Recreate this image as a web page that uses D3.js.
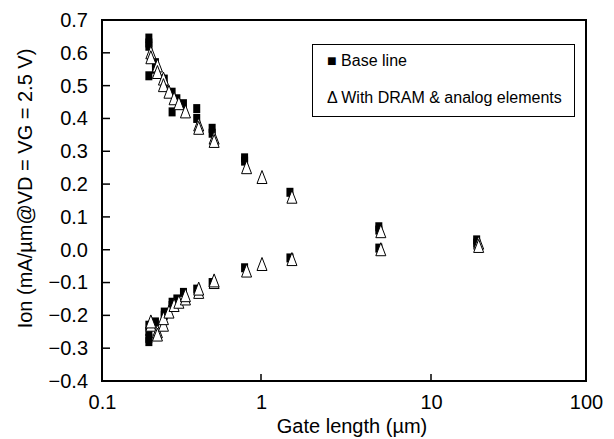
<!DOCTYPE html>
<html>
<head>
<meta charset="utf-8">
<script src="https://cdn.jsdelivr.net/npm/d3@7"></script>
<style>
  html, body { margin: 0; padding: 0; background: #fff; }
  svg { display: block; font-family: "Liberation Sans", Arial, Helvetica, sans-serif; }
</style>
</head>
<body>
<svg id="chart" width="614" height="439"></svg>
<script>
// Gate lengths (µm) and drive currents (mA/µm) for the base-line devices
const baseLength = [
  0.2, 0.2, 0.2, 0.2, 0.22, 0.22, 0.25, 0.25, 0.28, 0.28, 0.3, 0.33, 0.4, 0.4, 0.5, 0.5, 0.8, 0.8, 1.5, 5, 5, 20,
  0.2, 0.2, 0.2, 0.2, 0.22, 0.25, 0.25, 0.28, 0.28, 0.3, 0.33, 0.4, 0.5, 0.8, 1.5, 5, 20
];
const baseIon = [
  0.645, 0.63, 0.62, 0.53, 0.57, 0.55, 0.52, 0.50, 0.48, 0.42, 0.46, 0.445, 0.43, 0.40, 0.37, 0.355, 0.28, 0.27, 0.175, 0.07, 0.06, 0.03,
  -0.23, -0.25, -0.27, -0.28, -0.22, -0.19, -0.20, -0.16, -0.17, -0.15, -0.13, -0.12, -0.10, -0.055, -0.025, 0.005, 0.02
];

// Same measurements with DRAM & analog elements added to the process
const dramLength = [
  0.2, 0.2, 0.22, 0.22, 0.24, 0.24, 0.26, 0.28, 0.3, 0.33, 0.4, 0.4, 0.5, 0.5, 0.8, 1, 1.5, 5, 20,
  0.2, 0.2, 0.22, 0.22, 0.24, 0.24, 0.26, 0.28, 0.3, 0.33, 0.33, 0.4, 0.4, 0.5, 0.5, 0.8, 1, 1.5, 5, 20
];
const dramIon = [
  0.60, 0.585, 0.56, 0.54, 0.52, 0.50, 0.48, 0.46, 0.445, 0.42, 0.38, 0.37, 0.34, 0.33, 0.25, 0.22, 0.16, 0.055, 0.02,
  -0.23, -0.22, -0.25, -0.26, -0.23, -0.21, -0.19, -0.17, -0.16, -0.15, -0.14, -0.13, -0.12, -0.10, -0.095, -0.065, -0.045, -0.03, 0.0, 0.01
];

const xTicks = [0.1, 1, 10, 100];
const xTickLabels = ["0.1", "1", "10", "100"];
const yTicks = [0.7, 0.6, 0.5, 0.4, 0.3, 0.2, 0.1, 0.0, -0.1, -0.2, -0.3, -0.4];

const legendLabels = ["Base line", "With DRAM & analog elements"];
const xTitle = "Gate length (\u00b5m)";
const yTitle = "Ion (mA/\u00b5m@VD = VG = 2.5 V)";

const svg = d3.select("#chart");
const plotLeft = 102, plotRight = 586, plotTop = 20, plotBottom = 381;

// log axis; decade spacing follows the printed axis
const x = d3.scaleLog().domain(xTicks).range([plotLeft, 261, 431, plotRight]);
const y = d3.scaleLinear().domain([-0.4, 0.7]).range([plotBottom, plotTop]);

// y axis labels
const yAxis = d3.axisLeft(y).tickValues(yTicks).tickSize(0).tickPadding(14)
  .tickFormat(d3.format(".1f"));
const gy = svg.append("g").attr("transform", `translate(${plotLeft},0)`).call(yAxis);
gy.select(".domain").remove();
gy.selectAll("text").attr("font-size", 20).attr("fill", "#000")
  .text(d => d3.format(".1f")(d).replace("-", "\u2212"));
// inward tick marks
svg.append("g").selectAll("line").data(yTicks.slice(1, -1)).join("line")
  .attr("x1", plotLeft).attr("x2", plotLeft + 8)
  .attr("y1", d => y(d)).attr("y2", d => y(d))
  .attr("stroke", "#000").attr("stroke-width", 1.5);

// x axis labels
const xAxis = d3.axisBottom(x).tickValues(xTicks).tickSize(0).tickPadding(14)
  .tickFormat((d, i) => xTickLabels[i]);
const gx = svg.append("g").attr("transform", `translate(0,${plotBottom})`).call(xAxis);
gx.select(".domain").remove();
gx.selectAll("text").attr("font-size", 20).attr("fill", "#000");
svg.append("g").selectAll("line").data(xTicks.slice(1, -1)).join("line")
  .attr("x1", d => x(d)).attr("x2", d => x(d))
  .attr("y1", plotBottom).attr("y2", plotBottom - 7)
  .attr("stroke", "#000").attr("stroke-width", 1.5);

// plot frame
svg.append("rect")
  .attr("x", plotLeft).attr("y", plotTop)
  .attr("width", plotRight - plotLeft).attr("height", plotBottom - plotTop)
  .attr("fill", "none").attr("stroke", "#000").attr("stroke-width", 2);

// axis titles
svg.append("text")
  .attr("x", (plotLeft + plotRight) / 2 + 8).attr("y", 433)
  .attr("text-anchor", "middle").attr("font-size", 20)
  .text(xTitle);
svg.append("text")
  .attr("transform", `translate(32,${(plotTop + plotBottom) / 2 - 12}) rotate(-90)`)
  .attr("text-anchor", "middle").attr("font-size", 20)
  .text(yTitle);

// base line: filled squares
const baseData = baseLength.map((l, i) => ({ l, v: baseIon[i] }));
svg.append("g").selectAll("rect").data(baseData).join("rect")
  .attr("x", d => x(d.l) - 4.5).attr("y", d => y(d.v) - 4.5)
  .attr("width", 7).attr("height", 9)
  .attr("fill", "#000");

// DRAM & analog: open triangles
const tri = (cx, cy) => `M${cx},${cy - 7}L${cx + 5},${cy + 6}L${cx - 5},${cy + 6}Z`;
const dramData = dramLength.map((l, i) => ({ l, v: dramIon[i] }));
svg.append("g").selectAll("path").data(dramData).join("path")
  .attr("d", d => tri(x(d.l) + 1, y(d.v)))
  .attr("fill", "#fff").attr("stroke", "#000").attr("stroke-width", 1);

// legend
const lg = svg.append("g");
lg.append("rect").attr("x", 312.5).attr("y", 44.5).attr("width", 262).attr("height", 72)
  .attr("fill", "#fff").attr("stroke", "#000").attr("stroke-width", 1);
lg.append("text").attr("x", 327).attr("y", 66).attr("font-size", 16)
  .text("\u25a0 " + legendLabels[0]);
lg.append("text").attr("x", 327).attr("y", 103).attr("font-size", 16)
  .text("\u0394 " + legendLabels[1]);
</script>
</body>
</html>
